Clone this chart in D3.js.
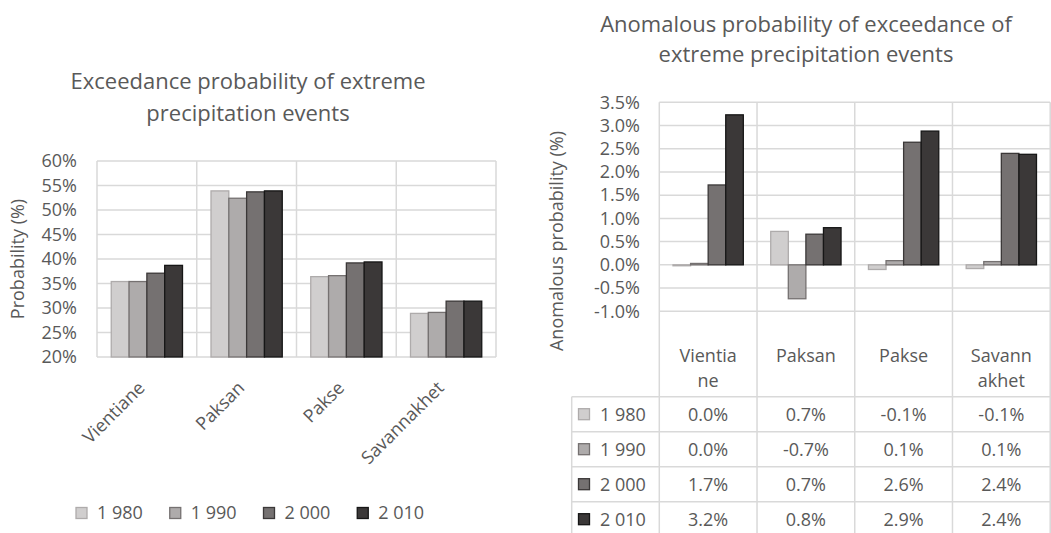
<!DOCTYPE html>
<html>
<head>
<meta charset="utf-8">
<script src="https://cdn.jsdelivr.net/npm/d3@7"></script>
<style>
  body { margin: 0; background: #fff; }
  text { fill: #595959; }
</style>
</head>
<body>
<script>
var categories = ['Vientiane', 'Paksan', 'Pakse', 'Savannakhet'];
var years = ['1 980', '1 990', '2 000', '2 010'];

// exceedance probability (left chart)
var prob1980 = [0.354, 0.539, 0.364, 0.289];
var prob1990 = [0.354, 0.524, 0.366, 0.291];
var prob2000 = [0.371, 0.537, 0.392, 0.314];
var prob2010 = [0.387, 0.539, 0.394, 0.314];

// anomalous probability (right chart + table)
var anom1980 = [-0.0002, 0.0072, -0.0010, -0.0008];
var anom1990 = [0.0003, -0.0073, 0.0009, 0.0007];
var anom2000 = [0.0172, 0.0066, 0.0264, 0.0240];
var anom2010 = [0.0323, 0.0080, 0.0288, 0.0238];

var leftTicks = [0.20, 0.25, 0.30, 0.35, 0.40, 0.45, 0.50, 0.55, 0.60];
var rightTicks = [-0.010, -0.005, 0, 0.005, 0.010, 0.015, 0.020, 0.025, 0.030, 0.035];

var fills = ['#d0cece', '#aeabab', '#757171', '#3b3838'];
var strokes = ['#aeabab', '#757171', '#3b3838', '#161616'];
var gridColor = '#d9d9d9';

var probSeries = [prob1980, prob1990, prob2000, prob2010];
var anomSeries = [anom1980, anom1990, anom2000, anom2010];

var locale = d3.formatLocale({decimal: '.', thousands: ',', grouping: [3], currency: ['$', ''], minus: '-'});
var pct0 = locale.format('.0%');
var pct1 = locale.format('.1%');
function fmt1(v) { return pct1((Math.round(v * 1000) / 1000) || 0); }

function cells(series) {
  var out = [];
  series.forEach(function(values, s) {
    values.forEach(function(v, c) {
      out.push({year: years[s], cat: categories[c], s: s, value: v});
    });
  });
  return out;
}

var svg = d3.select('body').append('svg')
  .attr('width', 1051).attr('height', 533)
  .style('font-family', '"Open Sans", sans-serif');

svg.append('rect').attr('width', 1051).attr('height', 533).attr('fill', '#fff');

// ---------- left chart ----------
var left = svg.append('g');

var xL = d3.scaleBand().domain(categories).range([97, 496]);
var xL1 = d3.scaleBand().domain(years).range([0, xL.bandwidth()]).paddingOuter(0.8);
var yL = d3.scaleLinear().domain([0.2, 0.6]).range([357, 161]);

left.append('text').attr('x', 248).attr('y', 89).attr('text-anchor', 'middle')
  .style('font-size', '22px').text('Exceedance probability of extreme');
left.append('text').attr('x', 248).attr('y', 121).attr('text-anchor', 'middle')
  .style('font-size', '22px').text('precipitation events');

left.selectAll('.hgrid').data(leftTicks).enter().append('line').classed('hgrid', true)
  .attr('x1', 97).attr('x2', 496)
  .attr('y1', yL).attr('y2', yL)
  .attr('stroke', gridColor).attr('stroke-width', 1.5);

var boundsL = categories.map(function(c) { return xL(c); }).concat([xL.range()[1]]);
left.selectAll('.vgrid').data(boundsL).enter().append('line').classed('vgrid', true)
  .attr('x1', function(d) { return d; }).attr('x2', function(d) { return d; })
  .attr('y1', yL(0.6)).attr('y2', yL(0.2))
  .attr('stroke', gridColor).attr('stroke-width', 1.5);

left.selectAll('.ytick').data(leftTicks).enter().append('text').classed('ytick', true)
  .attr('x', 77).attr('y', yL).attr('dy', '0.35em').attr('text-anchor', 'end')
  .style('font-size', '18px').text(pct0);

left.append('text')
  .attr('transform', 'translate(24,' + ((yL(0.2) + yL(0.6)) / 2) + ') rotate(-90)')
  .attr('text-anchor', 'middle').style('font-size', '18px').text('Probability (%)');

left.selectAll('.bar').data(cells(probSeries)).enter().append('rect').classed('bar', true)
  .attr('x', function(d) { return xL(d.cat) + xL1(d.year); })
  .attr('width', xL1.bandwidth())
  .attr('y', function(d) { return yL(d.value); })
  .attr('height', function(d) { return yL(0.2) - yL(d.value); })
  .attr('fill', function(d) { return fills[d.s]; })
  .attr('stroke', function(d) { return strokes[d.s]; })
  .attr('stroke-width', 1.3);

left.selectAll('.xlabel').data(categories).enter().append('text').classed('xlabel', true)
  .attr('transform', function(d) {
    return 'translate(' + (xL(d) + xL.bandwidth() / 2 - 1) + ',389) rotate(-45)';
  })
  .attr('text-anchor', 'end').style('font-size', '18px').text(function(d) { return d; });

var legX = d3.scaleBand().domain(years).range([76, 451]);
var legend = left.selectAll('.legend').data(years).enter().append('g').classed('legend', true)
  .attr('transform', function(d) { return 'translate(' + legX(d) + ',513)'; });
legend.append('rect').attr('x', 0).attr('y', -5.5).attr('width', 11).attr('height', 11)
  .attr('fill', function(d, i) { return fills[i]; })
  .attr('stroke', function(d, i) { return strokes[i]; }).attr('stroke-width', 1.3);
legend.append('text').attr('x', 21).attr('dy', '0.35em').style('font-size', '18px')
  .text(function(d) { return d; });

// ---------- right chart ----------
var right = svg.append('g');

var xR = d3.scaleBand().domain(categories).range([659.3, 1050.2]);
var xR1 = d3.scaleBand().domain(years).range([0, xR.bandwidth()]).paddingOuter(0.78);
var yR = d3.scaleLinear().domain([-0.015, 0.035]).range([334.5, 102.3]);

var tableTop = 396.7;
var rowH = 35;
var tableLeft = 571.7;
var tableBottom = tableTop + rowH * years.length;

right.append('text').attr('x', 806).attr('y', 32).attr('text-anchor', 'middle')
  .style('font-size', '22px').text('Anomalous probability of exceedance of');
right.append('text').attr('x', 806).attr('y', 62).attr('text-anchor', 'middle')
  .style('font-size', '22px').text('extreme precipitation events');

right.selectAll('.hgrid').data(rightTicks).enter().append('line').classed('hgrid', true)
  .attr('x1', xR.range()[0]).attr('x2', xR.range()[1])
  .attr('y1', yR).attr('y2', yR)
  .attr('stroke', gridColor).attr('stroke-width', 1.5);

var boundsR = categories.map(function(c) { return xR(c); }).concat([xR.range()[1]]);
right.selectAll('.vgrid').data(boundsR).enter().append('line').classed('vgrid', true)
  .attr('x1', function(d) { return d; }).attr('x2', function(d) { return d; })
  .attr('y1', yR(0.035)).attr('y2', tableBottom)
  .attr('stroke', gridColor).attr('stroke-width', 1.5);

right.selectAll('.ytick').data(rightTicks).enter().append('text').classed('ytick', true)
  .attr('x', 640).attr('y', yR).attr('dy', '0.35em').attr('text-anchor', 'end')
  .style('font-size', '18px').text(fmt1);

right.append('text')
  .attr('transform', 'translate(563,241) rotate(-90)')
  .attr('text-anchor', 'middle').style('font-size', '18px').text('Anomalous probability (%)');

right.selectAll('.bar').data(cells(anomSeries)).enter().append('rect').classed('bar', true)
  .attr('x', function(d) { return xR(d.cat) + xR1(d.year); })
  .attr('width', xR1.bandwidth())
  .attr('y', function(d) { return yR(Math.max(0, d.value)); })
  .attr('height', function(d) { return Math.abs(yR(d.value) - yR(0)); })
  .attr('fill', function(d) { return fills[d.s]; })
  .attr('stroke', function(d) { return strokes[d.s]; })
  .attr('stroke-width', 1.3);

// data table
var rowLines = d3.range(years.length + 1).map(function(i) { return tableTop + i * rowH; });
right.selectAll('.rowline').data(rowLines).enter().append('line').classed('rowline', true)
  .attr('x1', tableLeft).attr('x2', xR.range()[1])
  .attr('y1', function(d) { return d; }).attr('y2', function(d) { return d; })
  .attr('stroke', gridColor).attr('stroke-width', 1.5);
right.append('line')
  .attr('x1', tableLeft).attr('x2', tableLeft).attr('y1', tableTop).attr('y2', tableBottom)
  .attr('stroke', gridColor).attr('stroke-width', 1.5);

// header cells, wrapped by character like the spreadsheet does
var header = right.selectAll('.header').data(categories).enter().append('text').classed('header', true)
  .attr('text-anchor', 'middle').style('font-size', '18px');
header.each(function(d) {
  var t = d3.select(this);
  var cx = xR(d) + xR.bandwidth() / 2;
  var lines = [];
  var cur = '';
  var probe = t.append('tspan');
  d.split('').forEach(function(ch) {
    probe.text(cur + ch);
    if (cur && probe.node().getComputedTextLength() > 64) {
      lines.push(cur);
      cur = ch;
    } else {
      cur += ch;
    }
  });
  lines.push(cur);
  probe.remove();
  lines.forEach(function(line, i) {
    t.append('tspan').attr('x', cx).attr('y', 362 + i * 25).text(line);
  });
});

var rows = right.selectAll('.row').data(years).enter().append('g').classed('row', true)
  .attr('transform', function(d, i) { return 'translate(0,' + (tableTop + rowH * i + rowH / 2) + ')'; });
rows.append('rect').attr('x', 578.5).attr('y', -5.5).attr('width', 11).attr('height', 11)
  .attr('fill', function(d, i) { return fills[i]; })
  .attr('stroke', function(d, i) { return strokes[i]; }).attr('stroke-width', 1.3);
rows.append('text').attr('x', 600).attr('dy', '0.35em').style('font-size', '18px')
  .text(function(d) { return d; });
rows.each(function(d, i) {
  d3.select(this).selectAll('.val').data(anomSeries[i]).enter().append('text').classed('val', true)
    .attr('x', function(v, c) { return xR(categories[c]) + xR.bandwidth() / 2; })
    .attr('dy', '0.35em').attr('text-anchor', 'middle').style('font-size', '18px')
    .text(fmt1);
});
</script>
</body>
</html>
